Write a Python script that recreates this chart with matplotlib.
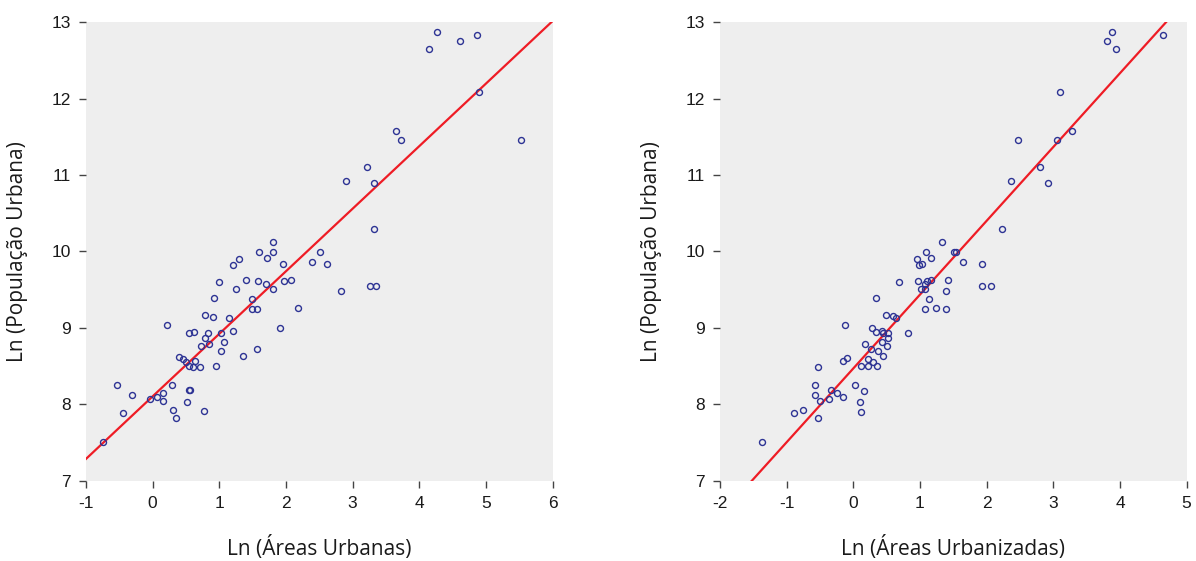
import matplotlib
matplotlib.use("Agg")
import matplotlib.pyplot as plt
import numpy as np

matplotlib.rcParams['axes.unicode_minus'] = False

# --- dados ---
# painel esquerdo: Ln (Áreas Urbanas) x Ln (População Urbana)
areas_urbanas = [
    4.144, 4.259, 4.605, 4.870, 4.890, 5.531, 3.644, 3.719, 3.209, 2.903,
    3.319, 3.319, 1.802, 1.602, 1.812, 1.722, 1.292, 1.212, 2.508, 2.398,
    2.613, 1.958, 0.997, 1.397, 1.582, 1.697, 1.802, 1.978, 2.083, 1.247,
    0.922, 1.487, 1.497, 1.562, 2.183, 2.828, 3.264, 3.344, 0.787, 0.907,
    1.147, 0.221, 0.541, 0.626, 0.827, 0.792, 1.032, 1.212, 1.908, 0.727,
    0.852, 1.067, 1.027, 1.572, 1.362, 0.396, 0.456, 0.496, 0.641, 0.546,
    0.611, 0.707, 0.947, -0.540, 0.291, -0.314, -0.039, 0.071, 0.156, 0.161,
    0.541, 0.556, 0.521, 0.301, 0.356, 0.777, -0.444, -0.750,
]
pop_esq = [
    12.655, 12.878, 12.751, 12.838, 12.087, 11.454, 11.576, 11.454, 11.109, 10.921,
    10.900, 10.297, 10.127, 9.987, 9.991, 9.917, 9.908, 9.821, 9.991, 9.860,
    9.830, 9.834, 9.603, 9.625, 9.616, 9.572, 9.515, 9.620, 9.633, 9.515,
    9.393, 9.384, 9.253, 9.253, 9.258, 9.485, 9.542, 9.542, 9.175, 9.149,
    9.136, 9.035, 8.939, 8.948, 8.935, 8.874, 8.935, 8.956, 8.996, 8.760,
    8.786, 8.817, 8.703, 8.725, 8.633, 8.616, 8.598, 8.550, 8.563, 8.507,
    8.494, 8.494, 8.502, 8.253, 8.258, 8.127, 8.070, 8.092, 8.153, 8.048,
    8.184, 8.188, 8.026, 7.930, 7.826, 7.908, 7.891, 7.502,
]
# reta ajustada (intercepto, inclinação)
reta_esq = (8.104, 0.8186)

# painel direito: Ln (Áreas Urbanizadas) x Ln (População Urbana)
areas_urbanizadas = [
    3.880, 3.805, 3.935, 4.650, 3.105, 3.285, 3.055, 2.470, 2.795, 2.370,
    2.925, 2.235, 1.325, 1.090, 1.505, 1.535, 0.960, 1.165, 0.985, 1.035,
    1.650, 1.935, 0.680, 0.970, 1.110, 1.160, 1.075, 1.020, 1.080, 1.415,
    1.385, 1.930, 2.070, 1.140, 1.075, 1.240, 1.395, 0.340, 0.495, 0.595,
    0.635, -0.125, 0.280, 0.340, 0.430, 0.440, 0.515, 0.515, 0.815, 0.435,
    0.180, 0.500, 0.265, 0.370, 0.445, -0.090, -0.160, 0.220, 0.290, 0.120,
    0.220, 0.355, -0.530, -0.580, 0.020, -0.580, -0.335, -0.245, -0.370, -0.495,
    -0.160, 0.165, 0.105, 0.115, -0.750, -0.885, -0.530, -1.365,
]
pop_dir = [
    12.878, 12.751, 12.655, 12.838, 12.087, 11.576, 11.454, 11.454, 11.109, 10.921,
    10.900, 10.297, 10.127, 9.987, 9.996, 9.996, 9.908, 9.917, 9.821, 9.834,
    9.860, 9.830, 9.603, 9.616, 9.620, 9.629, 9.572, 9.515, 9.515, 9.633,
    9.485, 9.542, 9.542, 9.384, 9.253, 9.258, 9.253, 9.393, 9.175, 9.153,
    9.136, 9.035, 8.996, 8.948, 8.961, 8.935, 8.935, 8.874, 8.935, 8.817,
    8.786, 8.760, 8.721, 8.703, 8.633, 8.612, 8.563, 8.598, 8.550, 8.502,
    8.498, 8.502, 8.494, 8.253, 8.258, 8.127, 8.188, 8.153, 8.066, 8.048,
    8.096, 8.179, 8.026, 7.904, 7.930, 7.891, 7.826, 7.502,
]
reta_dir = (8.47, 0.966)

COR_PONTO = '#2D3394'
COR_RETA = '#EE1C25'
FUNDO = '#EEEEEE'
FONTE_ROTULO = ['Open Sans', 'DejaVu Sans']
FONTE_TICK = ['Liberation Sans', 'DejaVu Sans']


def painel(ax, x, y, reta, xlim, xlabel):
    ax.set_facecolor(FUNDO)
    ax.plot(x, y, linestyle='none', marker='o', markersize=4.3,
            markerfacecolor='none', markeredgecolor=COR_PONTO,
            markeredgewidth=1.0, zorder=3)
    a, b = reta
    xs = np.array(xlim, dtype=float)
    ax.plot(xs, a + b * xs, color=COR_RETA, linewidth=1.6, zorder=2)

    ax.set_xlim(*xlim)
    ax.set_ylim(7, 13)
    ax.set_xticks(range(xlim[0], xlim[1] + 1))
    ax.set_yticks(range(7, 14))
    for s in ax.spines.values():
        s.set_visible(False)
    ax.tick_params(direction='out', length=5, width=1, color='#444444',
                   pad=6, labelsize=12.5, labelcolor='#1a1a1a')
    for lab in ax.get_xticklabels() + ax.get_yticklabels():
        lab.set_family(FONTE_TICK)

    ax.set_xlabel(xlabel, fontsize=15, family=FONTE_ROTULO, color='#1a1a1a')
    ax.set_ylabel('Ln (População Urbana)', fontsize=15, family=FONTE_ROTULO,
                  color='#1a1a1a')
    ax.xaxis.label.set_va('center')
    ax.yaxis.label.set_va('center')
    ax.xaxis.set_label_coords(0.5, -0.147)
    ax.yaxis.set_label_coords(-0.147, 0.5)


fig = plt.figure(figsize=(11.96, 5.61), dpi=100)
ax_esq = fig.add_axes([0.0719, 0.1431, 0.3901, 0.8172])
ax_dir = fig.add_axes([0.6020, 0.1431, 0.3902, 0.8172])

painel(ax_esq, areas_urbanas, pop_esq, reta_esq, (-1, 6), 'Ln (Áreas Urbanas)')
painel(ax_dir, areas_urbanizadas, pop_dir, reta_dir, (-2, 5), 'Ln (Áreas Urbanizadas)')

fig.savefig('out.png', dpi=100, facecolor='white')
